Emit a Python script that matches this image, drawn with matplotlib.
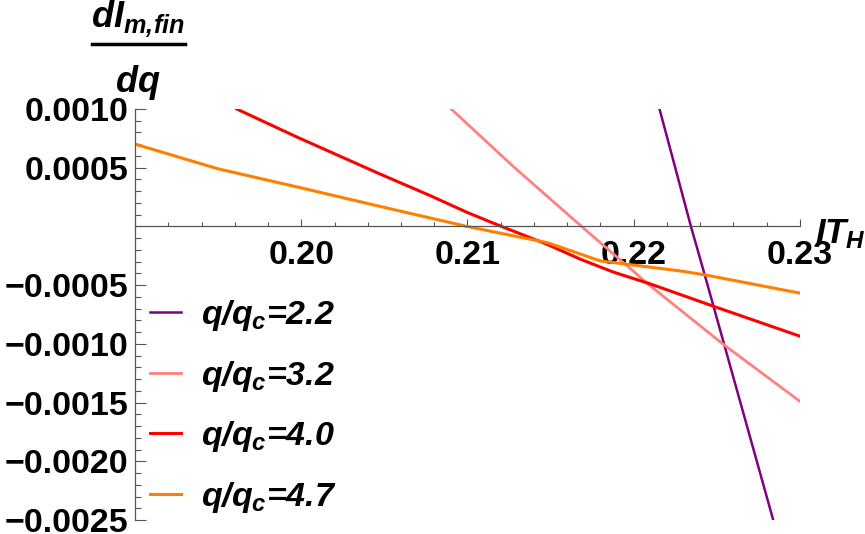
import matplotlib
matplotlib.use("Agg")
import matplotlib.pyplot as plt
import numpy as np
from matplotlib.ticker import FixedLocator, MultipleLocator
from matplotlib.lines import Line2D

plt.rcParams['font.family'] = 'Liberation Sans'
plt.rcParams['mathtext.fontset'] = 'custom'
plt.rcParams['mathtext.it'] = 'Liberation Sans:italic:bold'
plt.rcParams['mathtext.rm'] = 'Liberation Sans:italic:bold'
plt.rcParams['mathtext.bf'] = 'Liberation Sans:italic:bold'

# data
x_22 = [0.22155, 0.22344, 0.22427, 0.22839]
y_22 = [0.0010, 0.0, -0.000413, -0.0025]

x_32 = [0.20902, 0.21275, 0.21686, 0.22099, 0.22535, 0.23]
y_32 = [0.0010, 0.000511, 0.0, -0.000506, -0.0010, -0.00149]

x_40 = [0.19612, 0.19976, 0.20476, 0.20776, 0.21, 0.21204, 0.2148, 0.2168,
        0.2188, 0.2210, 0.2248, 0.23]
y_40 = [0.0010, 0.00076, 0.000445, 0.000262, 0.000118, 0.0, -0.000153,
        -0.00028, -0.00039, -0.00049, -0.00068, -0.000935]

x_47 = [0.19, 0.19496, 0.19976, 0.20536, 0.20996, 0.2148, 0.218, 0.2228,
        0.2243, 0.23]
y_47 = [0.000701, 0.000492, 0.000336, 0.00015, 0.0, -0.000138, -0.000294,
        -0.000379, -0.000413, -0.000568]

labels = ['$q/q_c$=2.2', '$q/q_c$=3.2', '$q/q_c$=4.0', '$q/q_c$=4.7']
colors = ['#800080', '#FF8080', '#FF0000', '#FF8000']

xticks = [0.20, 0.21, 0.22, 0.23]
xticklabels = ['0.20', '0.21', '0.22', '0.23']
yticks = [-0.0025, -0.0020, -0.0015, -0.0010, -0.0005, 0.0005, 0.0010]
yticklabels = ['\u22120.0025', '\u22120.0020', '\u22120.0015', '\u22120.0010',
               '\u22120.0005', '0.0005', '0.0010']

W, H = 865, 534
fig = plt.figure(figsize=(W / 100, H / 100), dpi=100)
ax = fig.add_axes([135 / W, 14 / H, 665 / W, 411 / H])

ax.plot(x_22, y_22, color=colors[0], lw=1.8, label=labels[0])
ax.plot(x_32, y_32, color=colors[1], lw=2.0, label=labels[1])
ax.plot(x_40, y_40, color=colors[2], lw=2.2, label=labels[2])
ax.plot(x_47, y_47, color=colors[3], lw=2.2, label=labels[3])

ax.set_xlim(0.19, 0.23)
ax.set_ylim(-0.0025, 0.0010)

ax.spines['top'].set_visible(False)
ax.spines['right'].set_visible(False)
ax.spines['bottom'].set_position(('data', 0))
for s in ['left', 'bottom']:
    ax.spines[s].set_color('#555555')
    ax.spines[s].set_linewidth(0.9)

ax.xaxis.set_major_locator(FixedLocator(xticks))
ax.set_xticklabels(xticklabels)
ax.xaxis.set_minor_locator(MultipleLocator(0.002))
ax.yaxis.set_major_locator(FixedLocator(yticks))
ax.set_yticklabels(yticklabels)
ax.yaxis.set_minor_locator(MultipleLocator(0.0001))

ax.tick_params(axis='both', which='both', direction='in', color='#555555', width=0.8)
ax.tick_params(axis='x', which='major', length=5, pad=10)
ax.tick_params(axis='x', which='minor', length=3)
ax.tick_params(axis='y', which='major', length=8, pad=5)
ax.tick_params(axis='y', which='minor', length=4)
for lab in ax.get_xticklabels() + ax.get_yticklabels():
    lab.set_fontsize(24.5)
    lab.set_fontweight('bold')

ax.legend(loc='upper left', bbox_to_anchor=(150 / W, 1 - 298 / H),
          bbox_transform=fig.transFigure, frameon=False,
          prop={'family': 'Liberation Sans', 'weight': 'bold', 'style': 'italic', 'size': 24.5},
          handlelength=0.9, handletextpad=0.6, labelspacing=0.75,
          borderpad=0, borderaxespad=0)

# axis labels
fig.text(138 / W, 1 - 27 / H, r'$dI_{m,\!fin}$', ha='center', va='baseline', size=26)
fig.add_artist(Line2D([92 / W, 185 / W], [1 - 44 / H, 1 - 44 / H], color='black', lw=2.5))
fig.text(138 / W, 1 - 92 / H, r'$dq$', ha='center', va='baseline', size=26)
fig.text(815 / W, 1 - 243 / H, r'$IT_H$', ha='left', va='baseline', size=25)

fig.savefig('out.png', dpi=100)
